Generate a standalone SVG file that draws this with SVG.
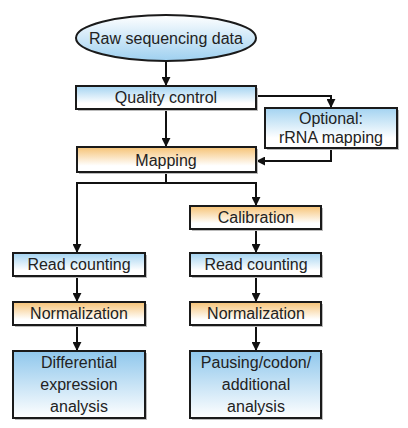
<svg xmlns="http://www.w3.org/2000/svg" width="408" height="428" viewBox="0 0 408 428">
<defs>
<linearGradient id="gBlue" x1="0" y1="0" x2="0" y2="1">
<stop offset="0" stop-color="#a3d3f1"/><stop offset="0.75" stop-color="#ffffff"/><stop offset="1" stop-color="#ffffff"/>
</linearGradient>
<linearGradient id="gOrange" x1="0" y1="0" x2="0" y2="1">
<stop offset="0" stop-color="#f6c274"/><stop offset="0.75" stop-color="#ffffff"/><stop offset="1" stop-color="#ffffff"/>
</linearGradient>
<linearGradient id="gBig" x1="0" y1="0" x2="0" y2="1">
<stop offset="0" stop-color="#8fc7ec"/><stop offset="1" stop-color="#ffffff"/>
</linearGradient>
<linearGradient id="gEll" x1="0" y1="0" x2="0" y2="1">
<stop offset="0" stop-color="#ffffff"/><stop offset="1" stop-color="#9ed0f0"/>
</linearGradient>
<marker id="arr" viewBox="0 0 10 10" refX="9" refY="5" markerWidth="4.5" markerHeight="4.5" orient="auto" markerUnits="strokeWidth">
<path d="M0,0 L10,5 L0,10 z" fill="#111"/>
</marker>
</defs>
<style>
.box{stroke:#1a1a1a;stroke-width:2}
.sh{fill:#bbbbbb}
.t{font-family:"Liberation Sans",Arial,sans-serif;font-size:16px;fill:#222;text-anchor:middle}
.c{fill:none;stroke:#111;stroke-width:2;marker-end:url(#arr)}
.cn{fill:none;stroke:#111;stroke-width:2}
</style>
<rect width="408" height="428" fill="#ffffff"/>
<g id="connectors">
<path class="c" d="M166,61 V85"/>
<path class="c" d="M256,96 H331 V107"/>
<path class="c" d="M166,109 V146"/>
<path class="c" d="M331,148 V161 H257"/>
<path class="cn" d="M166,172 V183"/>
<path class="c" d="M166,183 H77 V252"/>
<path class="c" d="M166,183 H256 V205"/>
<path class="c" d="M256,229 V252"/>
<path class="c" d="M77,276 V301"/>
<path class="c" d="M256,276 V301"/>
<path class="c" d="M77,325 V350"/>
<path class="c" d="M256,325 V350"/>
</g>
<g id="raw">
<ellipse cx="166" cy="38" rx="90" ry="23" fill="url(#gEll)" class="box"/>
<text class="t" x="166" y="44">Raw sequencing data</text>
</g>
<g id="qc">
<rect class="sh" x="78" y="88" width="180" height="23"/>
<rect class="box" x="76" y="86" width="180" height="23" fill="url(#gBlue)"/>
<text class="t" x="166" y="103">Quality control</text>
</g>
<g id="optional">
<rect class="sh" x="267" y="110" width="132" height="40"/>
<rect class="box" x="265" y="108" width="132" height="40" fill="url(#gBlue)"/>
<text class="t" x="331" y="124">Optional:</text>
<text class="t" x="331" y="143">rRNA mapping</text>
</g>
<g id="mapping">
<rect class="sh" x="79" y="149" width="179" height="25"/>
<rect class="box" x="77" y="147" width="179" height="25" fill="url(#gOrange)"/>
<text class="t" x="166" y="166">Mapping</text>
</g>
<g id="calibration">
<rect class="sh" x="192" y="208" width="131" height="23"/>
<rect class="box" x="190" y="206" width="131" height="23" fill="url(#gOrange)"/>
<text class="t" x="256" y="223">Calibration</text>
</g>
<g id="readL">
<rect class="sh" x="15" y="255" width="132" height="23"/>
<rect class="box" x="13" y="253" width="132" height="23" fill="url(#gBlue)"/>
<text class="t" x="79" y="270">Read counting</text>
</g>
<g id="readR">
<rect class="sh" x="192" y="255" width="131" height="23"/>
<rect class="box" x="190" y="253" width="131" height="23" fill="url(#gBlue)"/>
<text class="t" x="256" y="270">Read counting</text>
</g>
<g id="normL">
<rect class="sh" x="15" y="304" width="132" height="23"/>
<rect class="box" x="13" y="302" width="132" height="23" fill="url(#gOrange)"/>
<text class="t" x="79" y="319">Normalization</text>
</g>
<g id="normR">
<rect class="sh" x="192" y="304" width="131" height="23"/>
<rect class="box" x="190" y="302" width="131" height="23" fill="url(#gOrange)"/>
<text class="t" x="256" y="319">Normalization</text>
</g>
<g id="diff">
<rect class="sh" x="15" y="353" width="132" height="67"/>
<rect class="box" x="13" y="351" width="132" height="67" fill="url(#gBig)"/>
<text class="t" x="79" y="368">Differential</text>
<text class="t" x="79" y="390">expression</text>
<text class="t" x="79" y="412">analysis</text>
</g>
<g id="pausing">
<rect class="sh" x="192" y="353" width="131" height="67"/>
<rect class="box" x="190" y="351" width="131" height="67" fill="url(#gBig)"/>
<text class="t" x="256" y="368">Pausing/codon/</text>
<text class="t" x="256" y="390">additional</text>
<text class="t" x="256" y="412">analysis</text>
</g>
</svg>
